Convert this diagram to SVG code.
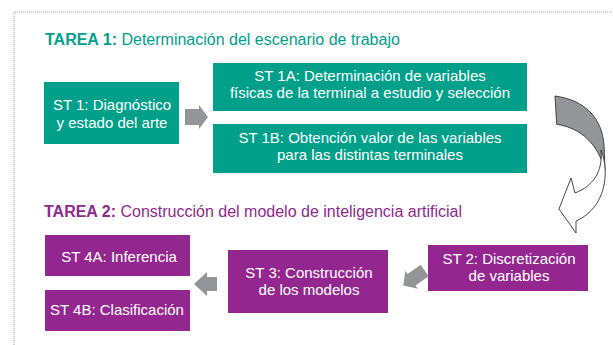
<svg xmlns="http://www.w3.org/2000/svg" width="613" height="345" viewBox="0 0 613 345">
<style>
.t{font-family:"Liberation Sans",Arial,sans-serif;font-size:15px;fill:#fff;text-anchor:middle}
.teal{fill:#00A08A}
.purp{fill:#93278F}
.arr{fill:#939598}
.h{font-family:"Liberation Sans",Arial,sans-serif;font-size:16px}
</style>
<rect width="613" height="345" fill="#fff"/>
<path d="M14,345 V12 H613" fill="none" stroke="#a0a0a0" stroke-width="1" stroke-dasharray="1,1"/>
<text id="tarea1" class="h" x="45" y="45" fill="#00A08A"><tspan font-weight="bold">TAREA 1:</tspan> Determinación del escenario de trabajo</text>
<text id="tarea2" class="h" x="44" y="217" fill="#8E2A8B"><tspan font-weight="bold">TAREA 2:</tspan> Construcción del modelo de inteligencia artificial</text>
<g id="st1"><rect class="teal" x="44" y="82" width="135" height="62"/><text class="t" x="112" y="110">ST 1: Diagnóstico</text><text class="t" x="112" y="128">y estado del arte</text></g>
<g id="st1a"><rect class="teal" x="213" y="63" width="314" height="48"/><text class="t" x="370" y="81">ST 1A: Determinación de variables</text><text class="t" x="370" y="98">físicas de la terminal a estudio y selección</text></g>
<g id="st1b"><rect class="teal" x="213" y="124" width="314" height="49"/><text class="t" x="370" y="143">ST 1B: Obtención valor de las variables</text><text class="t" x="370" y="160">para las distintas terminales</text></g>
<g id="st2"><rect class="purp" x="428" y="245" width="160" height="46"/><text class="t" x="509" y="264">ST 2: Discretización</text><text class="t" x="509" y="281">de variables</text></g>
<g id="st3"><rect class="purp" x="228" y="250" width="160" height="63"/><text class="t" x="309" y="278">ST 3: Construcción</text><text class="t" x="309" y="295">de los modelos</text></g>
<g id="st4a"><rect class="purp" x="45" y="235" width="145" height="41"/><text class="t" x="119" y="262">ST 4A: Inferencia</text></g>
<g id="st4b"><rect class="purp" x="45" y="290" width="145" height="41"/><text class="t" x="117" y="315">ST 4B: Clasificación</text></g>
<g id="connectors">
<path class="arr" d="M185,109 H199 V105 L208,117 L199,129 V125 H185 Z"/>
<path class="arr" d="M217,277 H207 V272 L194,284 L207,296 V291 H217 Z"/>
<path class="arr" transform="translate(414,278) rotate(-35)" d="M13,-7 H-3 V-11 L-13,0 L-3,11 V7 H13 Z"/>
<path d="M555,96 C585,100 602,118 604,145 L605,170 C598,145 582,128 556.7,124.3 Z" fill="#939598" stroke="#333" stroke-width="0.9"/>
<path d="M601,150 C610,172 606,208 576,221 L576,233 L559,209 L571,178 L575,193 C593,186 603,172 601,150 Z" fill="#fff" stroke="#333" stroke-width="0.9"/>
</g>
</svg>
